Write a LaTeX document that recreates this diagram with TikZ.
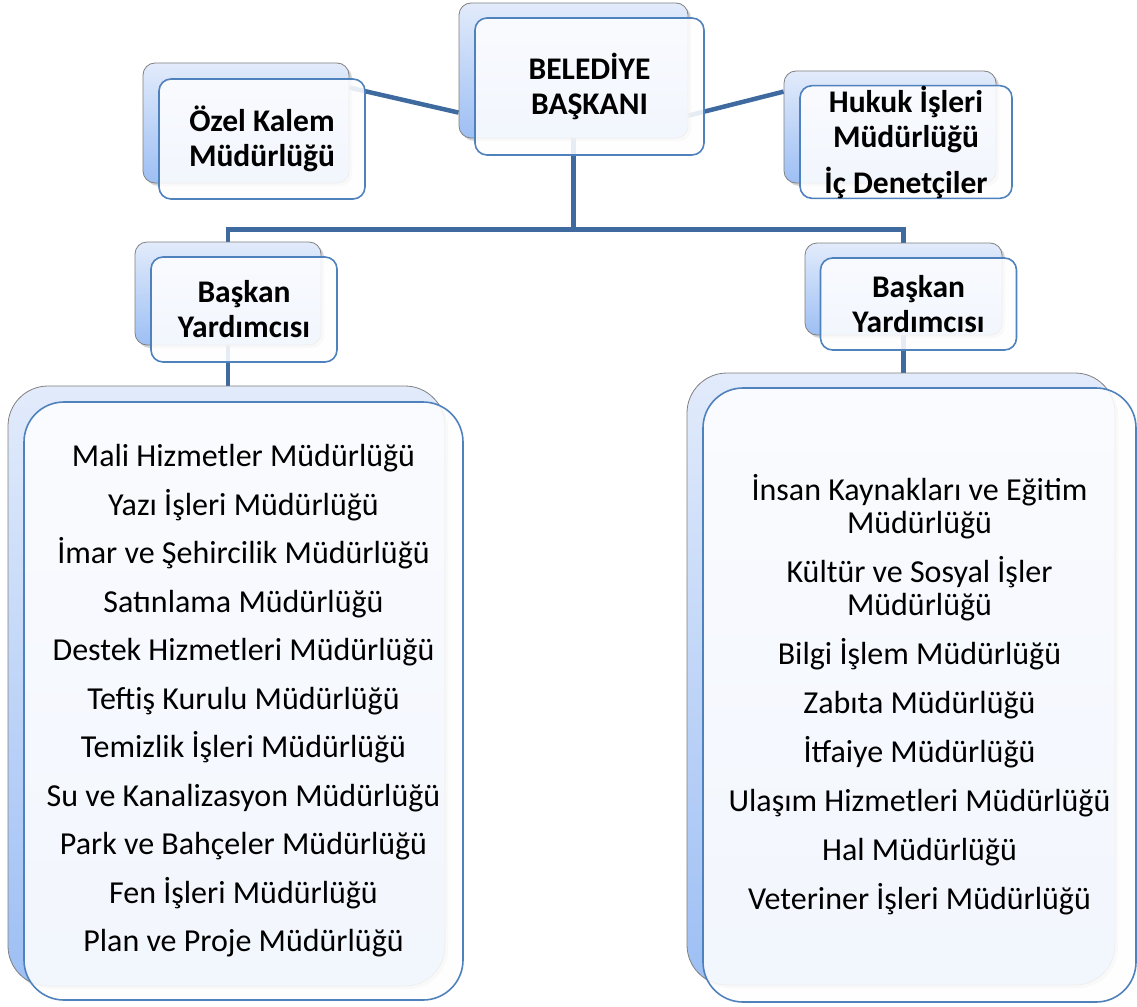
\documentclass[tikz,border=0pt]{standalone}
\usepackage{fontspec}
\setmainfont{Carlito}
\usetikzlibrary{calc,shadows,backgrounds}

\definecolor{hatmavi}{HTML}{3F6A9F}
\definecolor{kenarmavi}{HTML}{4F81BD}
\definecolor{arkaust}{HTML}{E2EBFB}
\definecolor{arkaalt}{HTML}{9DBFF4}

\tikzset{
	backbox/.style={draw=black!50, line width=0.8, rounded corners=12, top color=arkaust, bottom color=arkaalt,
		drop shadow={shadow xshift=3pt, shadow yshift=-3pt, opacity=0.35}},
	frontbox/.style={draw=kenarmavi, line width=1.6, rounded corners=12, fill=white!96!arkaust, fill opacity=0.88,
		text opacity=1, align=center, inner sep=0},
	bigbox/.style={rounded corners=40},
	conn/.style={draw=hatmavi, line width=4.5},
	bold/.style={font=\bfseries\fontsize{31.5}{35}\selectfont},
}

\begin{document}
\begin{tikzpicture}[x=1pt, y=-1pt]
		%%%%% START %%%%%
		\useasboundingbox (0,0) rectangle (1137,1006);
		
		% baskan
		\node[backbox, minimum width=229, minimum height=135] (baskan) at (573.5,70.5) {};
		\node[frontbox, bold, minimum width=229, minimum height=137] (baskanon) at ($(baskan)+(16,16)$) {BELEDİYE\\BAŞKANI};
		
		% ozel kalem
		\node[backbox, minimum width=206, minimum height=120] (ozel) at (246,123) {};
		\node[frontbox, bold, minimum width=206, minimum height=120] (ozelon) at ($(ozel)+(16,16)$) {Özel Kalem\\Müdürlüğü};
		
		% hukuk
		\node[backbox, minimum width=212, minimum height=112] (hukuk) at (890,127) {};
		\node[frontbox, bold, minimum width=212, minimum height=112] (hukukon) at ($(hukuk)+(16,15)$) {Hukuk İşleri\\Müdürlüğü\\[11pt]İç Denetçiler};
		
		% yardimcilar
		\node[backbox, minimum width=186, minimum height=103] (yrd1) at (228,293.5) {};
		\node[frontbox, bold, minimum width=186, minimum height=105] (yrd1on) at ($(yrd1)+(16,16)$) {Başkan\\Yardımcısı};
		\node[backbox, minimum width=197, minimum height=92] (yrd2) at (903.5,289) {};
		\node[frontbox, bold, minimum width=196, minimum height=92] (yrd2on) at ($(yrd2)+(15,15)$) {Başkan\\Yardımcısı};
		
		% birimler
		\node[backbox, bigbox, minimum width=437, minimum height=600] (birim1) at (226.5,686) {};
		\node[frontbox, bigbox, minimum width=439, minimum height=598, font=\fontsize{32}{48.5}\selectfont] (birim1on) at (243.5,701) {%
			Mali Hizmetler Müdürlüğü\\
			Yazı İşleri Müdürlüğü\\
			İmar ve Şehircilik Müdürlüğü\\
			Satınlama Müdürlüğü\\
			Destek Hizmetleri Müdürlüğü\\
			Teftiş Kurulu Müdürlüğü\\
			Temizlik İşleri Müdürlüğü\\
			Su ve Kanalizasyon Müdürlüğü\\
			Park ve Bahçeler Müdürlüğü\\
			Fen İşleri Müdürlüğü\\
			Plan ve Proje Müdürlüğü};
		\node[backbox, bigbox, minimum width=428, minimum height=612] (birim2) at (901,679) {};
		\node[frontbox, bigbox, minimum width=433, minimum height=614, font=\fontsize{32}{33}\selectfont] (birim2on) at (919.5,695) {%
			İnsan Kaynakları ve Eğitim\\
			Müdürlüğü\\[16pt]
			Kültür ve Sosyal İşler\\
			Müdürlüğü\\[16pt]
			Bilgi İşlem Müdürlüğü\\[16pt]
			Zabıta Müdürlüğü\\[16pt]
			İtfaiye Müdürlüğü\\[16pt]
			Ulaşım Hizmetleri Müdürlüğü\\[16pt]
			Hal Müdürlüğü\\[16pt]
			Veteriner İşleri Müdürlüğü};
		
		% hatlar
		\begin{scope}[on background layer]
			\coordinate (bar) at ($(baskan.south)+(0,91)$);
			\draw[conn] ($(ozel.north east)+(0,25)$) -- ($(baskan.north west)+(0,110)$);
			\draw[conn] ($(baskan.north east)+(0,113)$) -- ($(hukuk.north west)+(0,21)$);
			\draw[conn] (baskan.south) -- (bar);
			\draw[conn] (yrd1.north) |- (bar) -| (yrd2.north);
			\draw[conn] (yrd1.center) -- (yrd1.center |- birim1.north);
			\draw[conn] (yrd2.center) -- (yrd2.center |- birim2.north);
		\end{scope}
		
		%%%%% END %%%%%
	\end{tikzpicture}
\end{document}
